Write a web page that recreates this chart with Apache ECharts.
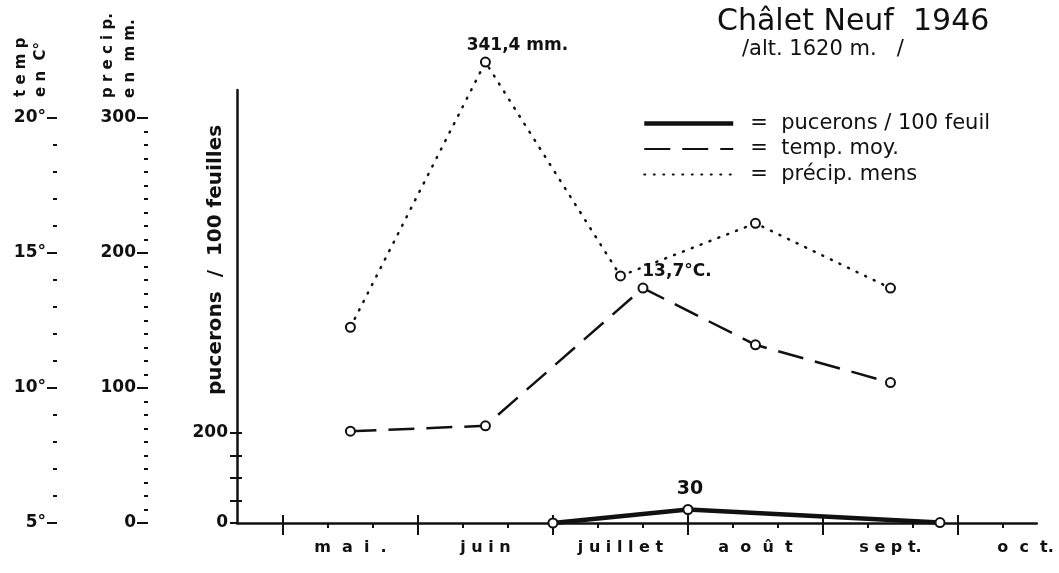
<!DOCTYPE html>
<html>
<head>
<meta charset="utf-8">
<script src="https://cdn.jsdelivr.net/npm/echarts@6/dist/echarts.min.js"></script>
<style>html,body{margin:0;padding:0;background:#fff}#c{width:1059px;height:573px}</style>
</head>
<body>
<div id="c"></div>
<script>
// x axis unit: decades (10-day periods) counted from 1 May
const monthLabels = ['m  a  i  .', 'j u i n', 'j u i l l e t', 'a  o  û  t', 's e p t.', 'o  c  t.'];
const monthCenters = [1.5, 4.5, 7.5, 10.5, 13.5, 16.5];
const monthStarts = [0, 3, 6, 9, 12, 15];
const decadeTicks = [1, 2, 4, 5, 7, 8, 10, 11, 13, 14, 16];

// précipitations mensuelles (mm)
const precipX = [1.5, 4.5, 7.5, 10.5, 13.5];
const precipMm = [145, 341.4, 183, 222, 174];
const precipNotes = ['', '341,4 mm.', '', '', ''];

// température moyenne (°C)
const tempX = [1.5, 4.5, 8.0, 10.5, 13.5];
const tempC = [8.4, 8.6, 13.7, 11.6, 10.2];
const tempNotes = ['', '', '13,7°C.', '', ''];

// pucerons / 100 feuilles
const pucX = [6, 9, 14.6];
const pucVals = [0, 30, 1];
const pucNotes = ['', '30', ''];

// tick labels
const tempTicks = [5, 10, 15, 20];
const tempMinor = [6, 7, 8, 9, 11, 12, 13, 14, 16, 17, 18, 19];
const precipTicks = [0, 100, 200, 300];
const precipMinor = [10, 20, 30, 40, 50, 60, 70, 80, 90, 110, 120, 130, 140, 150, 160, 170, 180, 190, 210, 220, 230, 240, 250, 260, 270, 280, 290];
const pucTicks = [0, 50, 100, 150, 200];
const pucLabels = [0, 200];

const names = ['pucerons / 100 feuil', 'temp. moy.', 'précip. mens'];

const INK = '#111';
const FONT = 'DejaVu Sans';

function pts(xs, ys, notes, off, size) {
  return xs.map((x, i) => {
    const d = { value: [x, ys[i]] };
    if (notes[i]) {
      d.label = { show: true, position: 'top', offset: off, formatter: notes[i],
        color: INK, fontFamily: FONT, fontSize: size, fontWeight: 'bold' };
    }
    return d;
  });
}

const chart = echarts.init(document.getElementById('c'), null, { renderer: 'canvas' });

const xBase = { type: 'value', gridIndex: 0, position: 'bottom', min: -1.02, max: 16.75,
  splitLine: { show: false } };
const yBase = { type: 'value', position: 'left', splitLine: { show: false } };

const tickLine = { color: INK, width: 2 };
const numLabel = { color: INK, fontFamily: FONT, fontSize: 17, fontWeight: 'bold' };
const noLine = { show: false, onZero: false };

chart.setOption({
  backgroundColor: '#fff',
  animation: false,
  title: [
    { text: 'Châlet Neuf  1946', left: 717, top: 7, padding: 0,
      textStyle: { color: INK, fontFamily: FONT, fontSize: 30, fontWeight: 'normal' } },
    { text: '/alt. 1620 m.   /', left: 742, top: 39, padding: 0,
      textStyle: { color: INK, fontFamily: FONT, fontSize: 21, fontWeight: 'normal' } }
  ],
  legend: {
    orient: 'vertical', left: 642, top: 113, padding: 0,
    itemWidth: 89, itemHeight: 14, itemGap: 4.5,
    data: [
      { name: names[0], lineStyle: { width: 4.5 } },
      { name: names[1] },
      { name: names[2] }
    ],
    formatter: '=  {name}',
    itemStyle: { opacity: 0 },
    textStyle: { color: INK, fontFamily: FONT, fontSize: 21, padding: [0, 0, 0, 12] },
    selectedMode: false
  },
  grid: { left: 237, right: 22.25, top: 90, bottom: 50, containLabel: false },
  xAxis: [
    Object.assign({}, xBase, {
      axisLine: { show: true, onZero: false, lineStyle: { color: INK, width: 2.5 } },
      axisTick: { show: true, inside: false, length: 12, customValues: monthStarts, lineStyle: tickLine },
      axisLabel: { show: true, customValues: monthCenters, margin: 17,
        formatter: (v) => monthLabels[monthCenters.indexOf(v)] || '',
        color: INK, fontFamily: FONT, fontSize: 16, fontWeight: 'bold' }
    }),
    Object.assign({}, xBase, {
      axisLine: noLine,
      axisTick: { show: true, inside: true, length: 8, customValues: monthStarts, lineStyle: tickLine },
      axisLabel: { show: false }
    }),
    Object.assign({}, xBase, {
      axisLine: noLine,
      axisTick: { show: true, inside: false, length: 5, customValues: decadeTicks, lineStyle: tickLine },
      axisLabel: { show: false }
    })
  ],
  yAxis: [
    Object.assign({}, yBase, { min: 0, max: 962.2, offset: 0,
      axisLine: { show: true, onZero: false, lineStyle: { color: INK, width: 2.5 } },
      axisTick: { show: true, inside: false, length: 7, customValues: pucTicks, lineStyle: tickLine },
      axisLabel: Object.assign({ customValues: pucLabels, margin: 9 }, numLabel)
    }),
    Object.assign({}, yBase, { min: 0, max: 962.2, offset: 0,
      axisLine: noLine,
      axisTick: { show: true, inside: true, length: 5, customValues: [50, 100, 150, 200], lineStyle: tickLine },
      axisLabel: { show: false }
    }),
    Object.assign({}, yBase, { min: 0, max: 320.74, offset: 89,
      axisLine: noLine,
      axisTick: { show: true, inside: false, length: 11, customValues: precipTicks, lineStyle: tickLine },
      axisLabel: Object.assign({ customValues: precipTicks, margin: 12 }, numLabel)
    }),
    Object.assign({}, yBase, { min: 0, max: 320.74, offset: 89,
      axisLine: noLine,
      axisTick: { show: true, inside: false, length: 4, customValues: precipMinor, lineStyle: tickLine },
      axisLabel: { show: false }
    }),
    Object.assign({}, yBase, { min: 5, max: 21.037, offset: 180,
      axisLine: noLine,
      axisTick: { show: true, inside: false, length: 10, customValues: tempTicks, lineStyle: tickLine },
      axisLabel: Object.assign({ customValues: tempTicks, margin: 11, formatter: '{value}°' }, numLabel)
    }),
    Object.assign({}, yBase, { min: 5, max: 21.037, offset: 180,
      axisLine: noLine,
      axisTick: { show: true, inside: false, length: 4, customValues: tempMinor, lineStyle: tickLine },
      axisLabel: { show: false }
    })
  ],
  graphic: [
    { type: 'text', x: 31, y: 97, rotation: Math.PI / 2,
      style: { text: 't e m p\ne n  C°', fill: INK, font: 'bold 15px "DejaVu Sans"', lineHeight: 20,
        textAlign: 'left', textVerticalAlign: 'middle' } },
    { type: 'text', x: 119, y: 98, rotation: Math.PI / 2,
      style: { text: 'p r e c i p.\ne n  m m.', fill: INK, font: 'bold 15px "DejaVu Sans"', lineHeight: 22,
        textAlign: 'left', textVerticalAlign: 'middle' } },
    { type: 'text', x: 216, y: 395, rotation: Math.PI / 2,
      style: { text: 'pucerons  /  100 feuilles', fill: INK, font: 'bold 20px "DejaVu Sans"',
        textAlign: 'left', textVerticalAlign: 'middle' } }
  ],
  series: [
    { name: names[0], type: 'line', xAxisIndex: 0, yAxisIndex: 0, clip: false,
      data: pts(pucX, pucVals, pucNotes, [2, 0], 19),
      symbol: 'emptyCircle', symbolSize: 9,
      lineStyle: { color: INK, width: 4.5, type: 'solid' },
      itemStyle: { color: INK, borderColor: INK, borderWidth: 1.5 }, z: 5 },
    { name: names[1], type: 'line', xAxisIndex: 0, yAxisIndex: 4, clip: false,
      data: pts(tempX, tempC, tempNotes, [34, 2], 17),
      symbol: 'emptyCircle', symbolSize: 9,
      lineStyle: { color: INK, width: 2.5, type: [26, 12] },
      itemStyle: { color: INK, borderColor: INK, borderWidth: 1.5 } },
    { name: names[2], type: 'line', xAxisIndex: 0, yAxisIndex: 2, clip: false,
      data: pts(precipX, precipMm, precipNotes, [32, 2], 17),
      symbol: 'emptyCircle', symbolSize: 9,
      lineStyle: { color: INK, width: 2.5, type: [1, 8.5], cap: 'round' },
      itemStyle: { color: INK, borderColor: INK, borderWidth: 1.5 } }
  ]
});
</script>
</body>
</html>
